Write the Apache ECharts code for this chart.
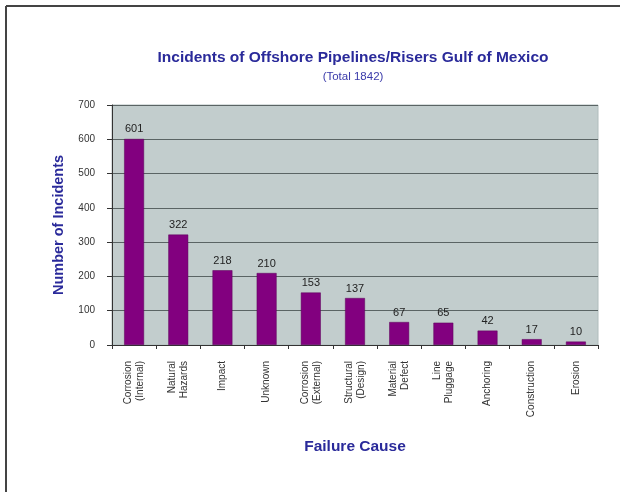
<!DOCTYPE html>
<html><head><meta charset="utf-8">
<script src="https://cdn.jsdelivr.net/npm/echarts@6/dist/echarts.min.js"></script>
<style>html,body{margin:0;padding:0;background:#fff}#c{width:620px;height:492px}</style>
</head><body><div id="c"></div>
<script>
const categories = ["Corrosion\n(Internal)","Natural\nHazards","Impact","Unknown","Corrosion\n(External)","Structural\n(Design)","Material\nDefect","Line\nPluggage","Anchoring","Construction","Erosion"];
const incidents = [601,322,218,210,153,137,67,65,42,17,10];
const yTicks = [0,100,200,300,400,500,600,700];

const chart = echarts.init(document.getElementById('c'), null, {renderer:'canvas'});
chart.setOption({
  animation:false,
  backgroundColor:'#fff',
  title:{
    text:'Incidents of Offshore Pipelines/Risers Gulf of Mexico',
    subtext:'(Total 1842)',
    left:348, top:45, textAlign:'center',
    itemGap:5,
    textStyle:{fontFamily:'Liberation Sans',fontSize:15.5,fontWeight:'bold',color:'#2a2a9a'},
    subtextStyle:{fontFamily:'Liberation Sans',fontSize:11.5,color:'#3a3aaa'}
  },
  graphic:[
    {type:'line',shape:{x1:6,y1:6,x2:620,y2:6},style:{stroke:'#444',lineWidth:2}},
    {type:'line',shape:{x1:6,y1:6,x2:6,y2:492},style:{stroke:'#444',lineWidth:2}}
  ],
  grid:{left:112,right:22,top:105,bottom:147,show:true,backgroundColor:'#c2cdcd',borderColor:'#b0bcbc',borderWidth:1},
  xAxis:{
    type:'category',data:categories,
    name:'Failure Cause',nameLocation:'middle',nameGap:94,
    nameTextStyle:{fontFamily:'Liberation Sans',fontSize:15.5,fontWeight:'bold',color:'#2a2a9a'},
    axisLine:{lineStyle:{color:'#333',width:1}},
    axisTick:{show:true,length:4,lineStyle:{color:'#333'}},
    axisLabel:{rotate:90,margin:16,fontFamily:'Liberation Sans',fontSize:10,color:'#333',lineHeight:12,interval:0}
  },
  yAxis:{
    type:'value',min:0,max:700,interval:100,
    name:'Number of Incidents',nameLocation:'middle',nameGap:46,nameRotate:90,
    nameTextStyle:{fontFamily:'Liberation Sans',fontSize:14.5,fontWeight:'bold',color:'#2a2a9a'},
    axisLine:{show:true,lineStyle:{color:'#333'}},
    axisTick:{show:true,length:5,lineStyle:{color:'#333'}},
    axisLabel:{fontFamily:'Liberation Sans',fontSize:10,color:'#333',margin:17,
      formatter:v=>yTicks.includes(v)?String(v):''},
    splitLine:{show:true,lineStyle:{color:'#5a6464',width:1}}
  },
  series:[{
    type:'bar',data:incidents,barWidth:'45%',
    itemStyle:{color:'#82007f',borderColor:'#5a0058',borderWidth:0.5},
    label:{show:true,position:'top',distance:4,fontFamily:'Liberation Sans',fontSize:11,color:'#222'}
  }]
});
</script></body></html>
